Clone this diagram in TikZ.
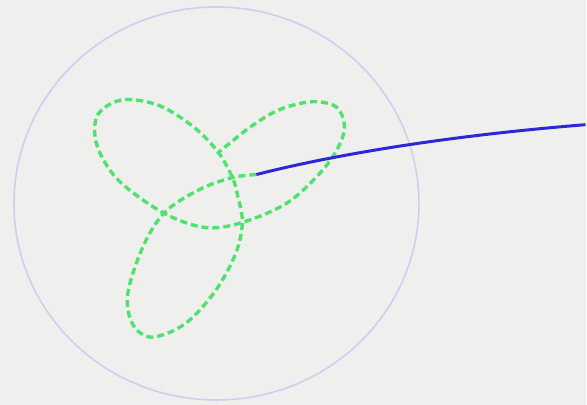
\documentclass[tikz,border=0pt]{standalone}
\begin{document}
\begin{tikzpicture}[x=1pt,y=-1pt,
  bgc/.style={fill={rgb,255:red,239;green,239;blue,237}},
  ring/.style={draw={rgb,255:red,208;green,205;blue,240},line width=1.6pt},
  knot/.style={draw={rgb,255:red,80;green,226;blue,110},line width=3.4pt,dash pattern=on 7pt off 4pt},
  rope/.style={draw={rgb,255:red,45;green,40;blue,215},line width=3pt}]
\fill[bgc] (0,0) rectangle (587,406);
\draw[ring] (217,204) ellipse [x radius=203, y radius=197];
\coordinate (S) at (257,175);
\coordinate (E) at (587,125);
\draw[knot] plot[smooth, tension=0.55] coordinates {
 (S) (233,178) (200,190) (165,213) (143,248) (128,295) (133,325) (152,338)
 (185,325) (215,293) (236,255) (243,223) (238,195) (233,178) (219,153)
 (195,128) (160,106) (123,100) (98,115) (97,145) (118,180) (163,213)
 (205,228) (243,223) (290,202) (328,165) (345,132) (338,108) (313,102)
 (280,110) (250,128) (219,153)};
\draw[rope] (S) .. controls (335,155) and (450,136) .. (E);
\end{tikzpicture}
\end{document}
